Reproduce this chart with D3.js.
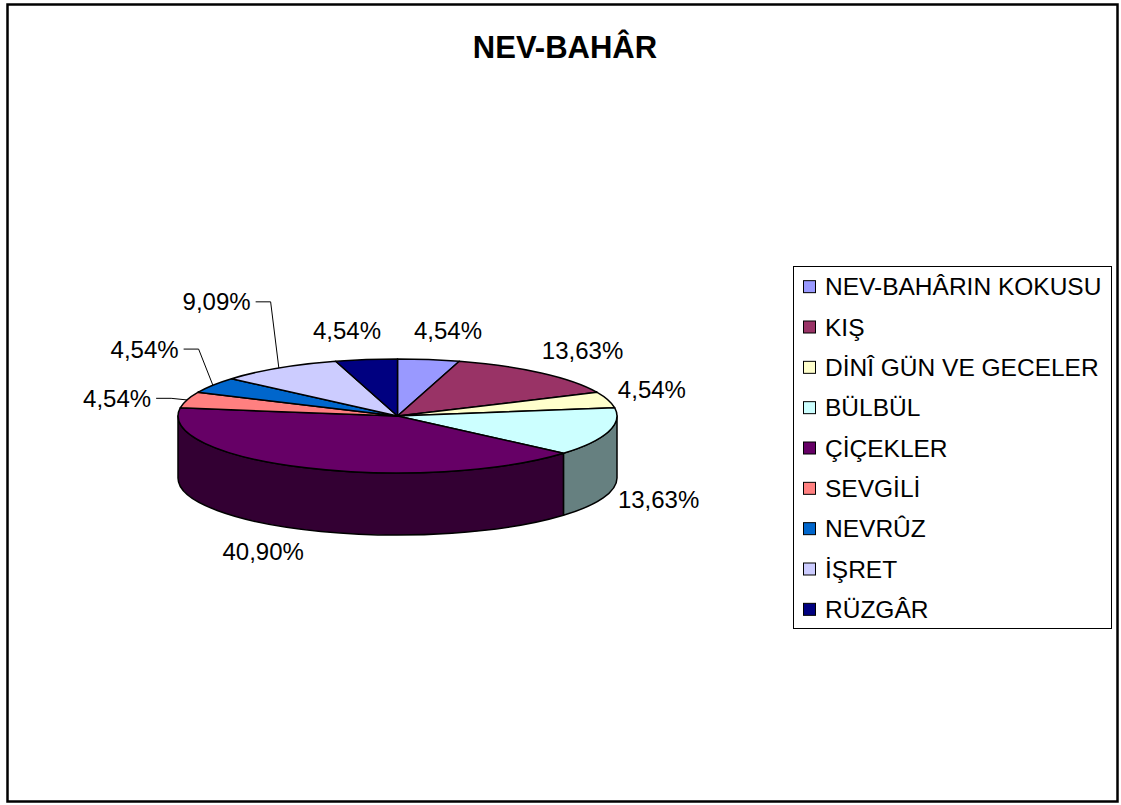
<!doctype html>
<html lang="tr">
<head>
  <meta charset="utf-8">
  <title>NEV-BAHÂR</title>
  <script src="https://d3js.org/d3.v7.min.js"></script>
  <style>
    body { margin: 0; background: #fff; }
    text { font-family: Arial, "Liberation Sans", sans-serif; }
  </style>
</head>
<body>
  <div id="chart"></div>
  <script type="text/javascript">

    // canvas size
    var width = 1121, height = 805;

    // data (percent of poems per theme)
    var categories = ['NEV-BAHÂRIN KOKUSU', 'KIŞ', 'DİNÎ GÜN VE GECELER', 'BÜLBÜL', 'ÇİÇEKLER',
                      'SEVGİLİ', 'NEVRÛZ', 'İŞRET', 'RÜZGÂR'];
    var values = [4.54, 13.63, 4.54, 13.63, 40.90, 4.54, 4.54, 9.09, 4.54];
    var colors = ['#9999FF', '#993366', '#FFFFCC', '#CCFFFF', '#660066',
                  '#FF8080', '#0066CC', '#CCCCFF', '#000080'];
    var title = 'NEV-BAHÂR';

    // 3d pie geometry
    var cx = 397.5, cy = 416, rx = 219.5, ry = 57, depth = 62;

    // labels that were dragged away from the pie in the original (with leader lines)
    var nudge = { 4: [-9, 0], 5: [-26, 8.5], 6: [-28, -19], 7: [-31, -41] };

    var color = d3.scaleOrdinal().domain(categories).range(colors);
    var fmt = function(v) { return d3.format('.2f')(v).replace('.', ',') + '%'; };

    var svg = d3.select('#chart')
                .append('svg')
                .attr('width', width)
                .attr('height', height);

    // outer frame
    svg.append('rect')
       .attr('x', 7.5).attr('y', 4.5)
       .attr('width', 1110).attr('height', 797)
       .attr('fill', '#fff')
       .attr('stroke', '#000')
       .attr('stroke-width', 2.5);

    svg.append('text')
       .attr('x', 565).attr('y', 58)
       .attr('text-anchor', 'middle')
       .style('font-size', '31px')
       .style('font-weight', 'bold')
       .text(title);

    var pie = d3.pie().sort(null).value(function(d) { return d; });
    var arcs = pie(values);

    // point on the (tilted) rim for a pie angle, optionally pushed down by dy
    function pt(a, dy) {
      return [cx + rx * Math.sin(a), cy - ry * Math.cos(a) + (dy || 0)];
    }

    function topPath(d) {
      var p0 = pt(d.startAngle), p1 = pt(d.endAngle);
      var large = (d.endAngle - d.startAngle) > Math.PI ? 1 : 0;
      return 'M' + cx + ',' + cy + 'L' + p0 + 'A' + rx + ',' + ry + ' 0 ' + large + ' 1 ' + p1 + 'Z';
    }

    function sidePath(a0, a1) {
      var large = (a1 - a0) > Math.PI ? 1 : 0;
      return 'M' + pt(a0) + 'A' + rx + ',' + ry + ' 0 ' + large + ' 1 ' + pt(a1) +
             'L' + pt(a1, depth) + 'A' + rx + ',' + ry + ' 0 ' + large + ' 0 ' + pt(a0, depth) + 'Z';
    }

    var pieG = svg.append('g');

    // visible wall: front half of the pie (90deg..270deg)
    var front = arcs.map(function(d, i) {
      return { i: i, a0: Math.max(d.startAngle, Math.PI / 2), a1: Math.min(d.endAngle, Math.PI * 1.5) };
    }).filter(function(s) { return s.a1 > s.a0; });

    pieG.selectAll('.side')
        .data(front)
        .enter()
        .append('path')
        .attr('class', 'side')
        .attr('d', function(s) { return sidePath(s.a0, s.a1); })
        .attr('fill', function(s) {
          var c = d3.rgb(colors[s.i]);
          return d3.rgb(c.r / 2, c.g / 2, c.b / 2).formatHex();
        })
        .attr('stroke', '#000')
        .attr('stroke-width', 1.5)
        .attr('stroke-linejoin', 'round');

    pieG.selectAll('.slice')
        .data(arcs)
        .enter()
        .append('path')
        .attr('class', 'slice')
        .attr('d', topPath)
        .attr('fill', function(d, i) { return color(categories[i]); })
        .attr('stroke', '#000')
        .attr('stroke-width', 1.5)
        .attr('stroke-linejoin', 'round');

    // percent labels
    var labels = arcs.map(function(d, i) {
      var a = (d.startAngle + d.endAngle) / 2;
      var s = Math.sin(a), c = Math.cos(a);
      var side = s >= 0 ? 1 : -1;
      var x = cx + (rx + 30) * s - 19 * side;
      var y = cy - (ry + 27) * c + (c < 0 ? depth : 0) + 6;
      var n = nudge[i] || [0, 0];
      return { i: i, a: a, side: side, x: x + n[0], y: y + n[1], moved: i >= 5 && !!nudge[i] };
    });

    svg.selectAll('.lbl')
       .data(labels)
       .enter()
       .append('text')
       .attr('class', 'lbl')
       .attr('x', function(l) { return l.x; })
       .attr('y', function(l) { return l.y; })
       .attr('text-anchor', function(l) { return l.side > 0 ? 'start' : 'end'; })
       .style('font-size', '24px')
       .text(function(l) { return fmt(values[l.i]); });

    // leader lines for the moved labels
    svg.selectAll('.leader')
       .data(labels.filter(function(l) { return l.moved; }))
       .enter()
       .append('polyline')
       .attr('class', 'leader')
       .attr('points', function(l) {
         var x0 = l.x + 5, y0 = l.y - 8.5;
         return [[x0, y0], [x0 + 15, y0], pt(l.a)].join(' ');
       })
       .attr('fill', 'none')
       .attr('stroke', '#000')
       .attr('stroke-width', 1);

    // legend
    var legendY = d3.scaleBand().domain(categories).range([266, 629]);

    svg.append('rect')
       .attr('x', 793.5).attr('y', 266.5)
       .attr('width', 318).attr('height', 362)
       .attr('fill', '#fff')
       .attr('stroke', '#000')
       .attr('stroke-width', 1);

    var items = svg.selectAll('.legend')
                   .data(categories)
                   .enter()
                   .append('g')
                   .attr('class', 'legend')
                   .attr('transform', function(d) {
                     return 'translate(803,' + (legendY(d) + legendY.bandwidth() / 2) + ')';
                   });

    items.append('rect')
         .attr('x', 0.5).attr('y', -5.5)
         .attr('width', 12).attr('height', 12)
         .attr('fill', function(d) { return color(d); })
         .attr('stroke', '#000')
         .attr('stroke-width', 1);

    items.append('text')
         .attr('x', 22)
         .attr('y', 9)
         .style('font-size', '24.5px')
         .text(function(d) { return d; });

  </script>
</body>
</html>
